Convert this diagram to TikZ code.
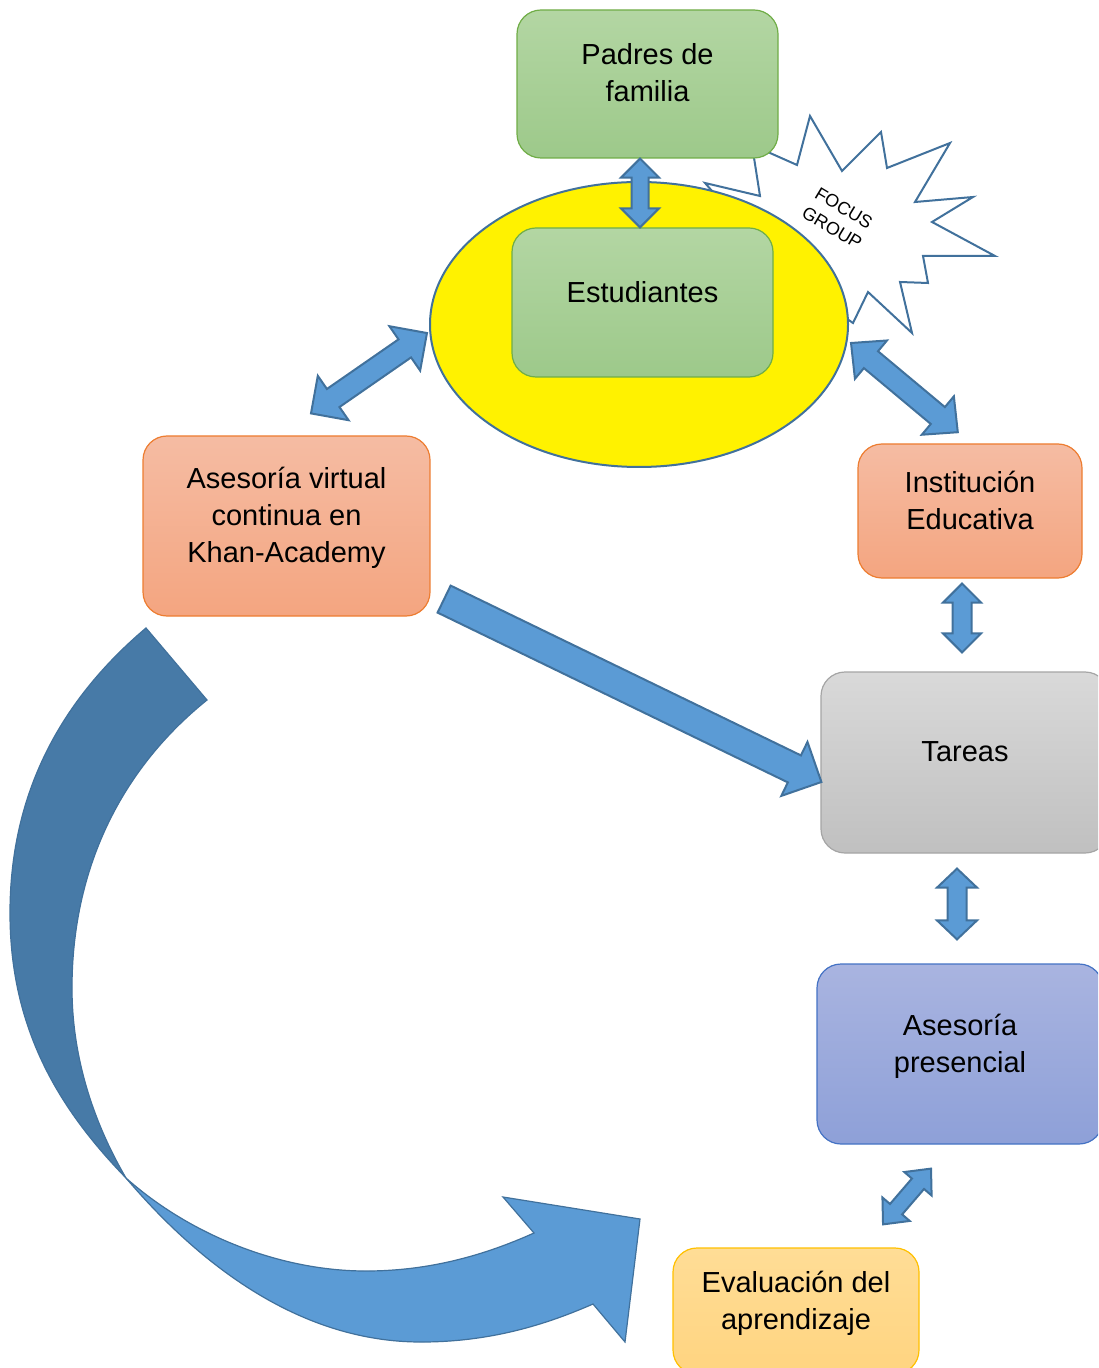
\documentclass[tikz,border=0pt]{standalone}
\usepackage{fontspec}
\setmainfont{Liberation Sans}
\usetikzlibrary{shapes.geometric,calc}

\definecolor{arrowblue}{HTML}{5B9BD5}
\definecolor{arrowline}{HTML}{41719C}
\definecolor{curvedark}{HTML}{477AA7}
\definecolor{greentop}{HTML}{B3D6A3}
\definecolor{greenbot}{HTML}{9DC98A}
\definecolor{greenline}{HTML}{70AD47}
\definecolor{orangetop}{HTML}{F5BCA3}
\definecolor{orangebot}{HTML}{F4A580}
\definecolor{orangeline}{HTML}{ED7D31}
\definecolor{graytop}{HTML}{D9D9D9}
\definecolor{graybot}{HTML}{C0C0C0}
\definecolor{grayline}{HTML}{A5A5A5}
\definecolor{bluetop}{HTML}{A9B4E0}
\definecolor{bluebot}{HTML}{8EA0D8}
\definecolor{blueline}{HTML}{4472C4}
\definecolor{goldtop}{HTML}{FFDD96}
\definecolor{goldbot}{HTML}{FFD480}
\definecolor{goldline}{HTML}{FFC000}

\tikzset{
  box/.style={rectangle, rounded corners=12pt, inner sep=0pt, align=center,
    text depth=11pt, line width=0.6pt, font=\fontsize{14.5}{18.5}\selectfont},
  greenbox/.style={box, top color=greentop, bottom color=greenbot, draw=greenline},
  orangebox/.style={box, top color=orangetop, bottom color=orangebot, draw=orangeline},
  graybox/.style={box, top color=graytop, bottom color=graybot, draw=grayline},
  bluebox/.style={box, top color=bluetop, bottom color=bluebot, draw=blueline},
  goldbox/.style={box, top color=goldtop, bottom color=goldbot, draw=goldline},
  blockarrow/.style={fill=arrowblue, draw=arrowline, line width=1pt, line join=miter},
  burst/.style={fill=white, draw=arrowline, line width=1pt, line join=miter},
  focustext/.style={align=center, inner sep=0pt, rotate=-31, font=\fontsize{9}{11.5}\selectfont},
}

% block double arrow: from, to, shaft half width, head half width, head length (px)
\newcommand{\dblarrow}[5]{%
  \filldraw[blockarrow] let \p1=#1, \p2=#2,
    \n1={atan2(\y2-\y1,\x2-\x1)}, \n2={veclen(\x2-\x1,\y2-\y1)} in
    [shift={(\p1)}, rotate=\n1]
    (0pt,0pt) -- ({#5*0.5pt},{#4*0.5pt}) -- ({#5*0.5pt},{#3*0.5pt})
    -- ({\n2*1pt-#5*0.5pt},{#3*0.5pt}) -- ({\n2*1pt-#5*0.5pt},{#4*0.5pt})
    -- ({\n2*1pt},0pt) -- ({\n2*1pt-#5*0.5pt},{-#4*0.5pt}) -- ({\n2*1pt-#5*0.5pt},{-#3*0.5pt})
    -- ({#5*0.5pt},{-#3*0.5pt}) -- ({#5*0.5pt},{-#4*0.5pt}) -- cycle;}

% block single arrow: from, to, shaft half width, head half width, head length (px)
\newcommand{\onearrow}[5]{%
  \filldraw[blockarrow] let \p1=#1, \p2=#2,
    \n1={atan2(\y2-\y1,\x2-\x1)}, \n2={veclen(\x2-\x1,\y2-\y1)} in
    [shift={(\p1)}, rotate=\n1]
    (0pt,{#3*0.5pt}) -- ({\n2*1pt-#5*0.5pt},{#3*0.5pt}) -- ({\n2*1pt-#5*0.5pt},{#4*0.5pt})
    -- ({\n2*1pt},0pt) -- ({\n2*1pt-#5*0.5pt},{-#4*0.5pt}) -- ({\n2*1pt-#5*0.5pt},{-#3*0.5pt})
    -- (0pt,{-#3*0.5pt}) -- cycle;}

\begin{document}
\begin{tikzpicture}[x=0.5pt, y=-0.5pt]
  \useasboundingbox (0,0) rectangle (1098,1368);
  \clip (0,0) rectangle (1098,1368);

  % focus group burst (behind ellipse and parents box)
  \filldraw[burst] (797,165) -- (810,116) -- (842,171) -- (881,132) -- (887,168) -- (950,143)
    -- (915,202) -- (973,197) -- (932,222) -- (995,256) -- (923,256) -- (928,283)
    -- (900,282) -- (912,333) -- (868,292) -- (853,323) -- (790,280) -- (705,183)
    -- (760,196) -- (752,145) -- cycle;
  \node[focustext] (focus) at (838,218) {FOCUS\\GROUP};

  % students
  \node[ellipse, fill=yellow, draw=arrowline, line width=1pt, inner sep=0pt,
    minimum width=209pt, minimum height=142.5pt] (nucleo) at (639,324.5) {};
  \node[greenbox, minimum width=130.5pt, minimum height=74pt] (padres) at (647.5,84) {Padres de\\familia};
  \node[greenbox, minimum width=130.5pt, minimum height=74.5pt] (estud) at (642.5,302.5) {Estudiantes};

  % other boxes
  \node[orangebox, minimum width=143.5pt, minimum height=90pt] (virtual) at (286.5,526) {Asesoría virtual\\continua en\\Khan-Academy};
  \node[orangebox, minimum width=112pt, minimum height=67pt] (inst) at (970,511) {Institución\\Educativa};
  \node[graybox, minimum width=144pt, minimum height=90.5pt] (tareas) at (965,762.5) {Tareas};
  \node[bluebox, minimum width=143pt, minimum height=90pt] (pres) at (960,1054) {Asesoría\\presencial};
  \node[goldbox, minimum width=123pt, minimum height=63pt] (eval) at (796,1311) {Evaluación del\\aprendizaje};

  % curved arrow back to evaluation
  \filldraw[fill=curvedark, draw=arrowline, line width=0.6pt]
    (146,628) .. controls (55,705) and (10,800) .. (10,913)
    .. controls (10,1030) and (60,1110) .. (126,1178)
    .. controls (95,1125) and (72,1060) .. (72,988)
    .. controls (72,870) and (120,770) .. (207,700) -- cycle;
  \filldraw[fill=arrowblue, draw=arrowline, line width=0.6pt]
    (126,1178) .. controls (200,1265) and (300,1342) .. (421,1342)
    .. controls (490,1342) and (545,1325) .. (593,1304)
    -- (625,1342) -- (640,1219) -- (503,1197) -- (534,1233)
    .. controls (485,1255) and (430,1271) .. (366,1271)
    .. controls (280,1271) and (190,1235) .. (126,1178) -- cycle;

  % block arrows
  \dblarrow{($(padres.south)+(-7.5,0)$)}{($(estud.north)+(-2.5,0)$)}{8.5}{19}{19}
  \dblarrow{($(virtual.north)+(24.5,-22)$)}{($(nucleo.west)+(-2,8.5)$)}{11}{27}{27}
  \dblarrow{($(nucleo.east)+(2,18.5)$)}{($(inst.north)+(-12,-11)$)}{11}{25}{26}
  \dblarrow{($(inst.south)+(-8,5)$)}{($(tareas.north)+(-3,-19)$)}{9.5}{19}{19}
  \dblarrow{($(tareas.south)+(-8,15)$)}{($(pres.north)+(-3,-24)$)}{9.5}{20}{19}
  \dblarrow{($(pres.south)+(-29,24)$)}{($(eval.north)+(87,-23)$)}{8}{18}{20}
  \onearrow{($(virtual.south east)+(13.5,-17.5)$)}{($(tareas.west)+(1,19.5)$)}{15}{30}{30}
\end{tikzpicture}
\end{document}
